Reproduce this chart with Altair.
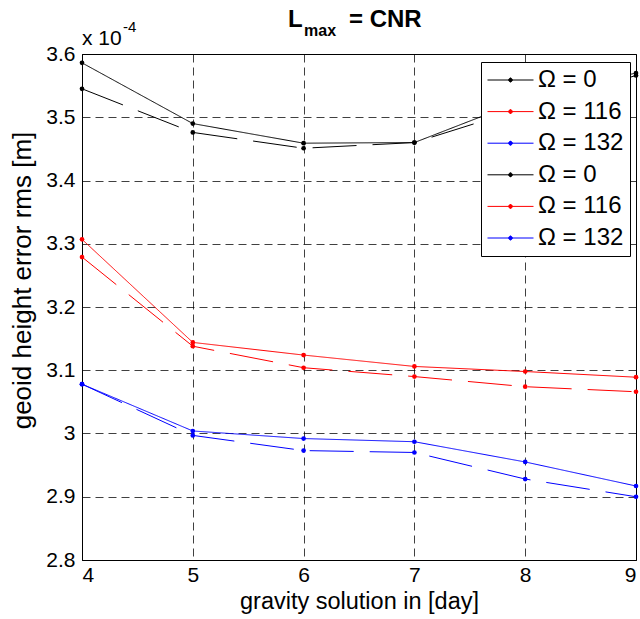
import altair as alt
import pandas as pd

# ---- data (values in units of 1e-4 m) ----
days = [4, 5, 6, 7, 8, 9]
series_keys = ["Ω = 0|a", "Ω = 116|a", "Ω = 132|a", "Ω = 0|b", "Ω = 116|b", "Ω = 132|b"]
series_colors = ["#000000", "#ff0000", "#0000ff", "#000000", "#ff0000", "#0000ff"]
series_styles = ["solid", "solid", "solid", "dashed", "dashed", "dashed"]

solid_0 = [3.586, 3.490, 3.459, 3.460, 3.528, 3.570]
solid_116 = [3.307, 3.144, 3.124, 3.106, 3.098, 3.089]
solid_132 = [3.078, 3.004, 2.992, 2.987, 2.955, 2.917]
dash_0 = [3.545, 3.476, 3.451, 3.460, 3.515, 3.566]
dash_116 = [3.279, 3.138, 3.104, 3.090, 3.074, 3.066]
dash_132 = [3.078, 2.997, 2.973, 2.970, 2.928, 2.900]

x_ticks = [4, 5, 6, 7, 8, 9]
y_ticks = [2.8, 2.9, 3.0, 3.1, 3.2, 3.3, 3.4, 3.5, 3.6]

series_values = [solid_0, solid_116, solid_132, dash_0, dash_116, dash_132]
rows = []
for key, style, vals in zip(series_keys, series_styles, series_values):
    for d, v in zip(days, vals):
        rows.append({"day": d, "rms": v, "series": key, "style": style})
df = pd.DataFrame(rows)

FONT = "Liberation Sans"

legend = alt.Legend(
    orient="none", legendX=399, legendY=8, title=None,
    symbolType="M-1,0H1M-0.08,0A0.08,0.08,0,1,1,0.08,0A0.08,0.08,0,1,1,-0.08,0"
               "M-0.04,0A0.04,0.04,0,1,1,0.04,0A0.04,0.04,0,1,1,-0.04,0M0,-0.1V0.1",
    symbolSize=2116, symbolStrokeWidth=1, symbolOpacity=1,
    labelFont=FONT, labelFontSize=24, labelColor="black",
    labelExpr="split(datum.value, '|')[0]",
    labelOffset=4, strokeColor="black", fillColor="white",
    clipHeight=24, padding=6, rowPadding=7.6, cornerRadius=0,
)

x_enc = alt.X("day:Q", scale=alt.Scale(domain=[4, 9], nice=False, zero=False),
              axis=alt.Axis(values=x_ticks, format="d", title="gravity solution in [day]",
                            labelFontSize=21, labelPadding=4, titleFontSize=23.5, titlePadding=4))
y_enc = alt.Y("rms:Q", scale=alt.Scale(domain=[2.8, 3.6], nice=False, zero=False),
              axis=alt.Axis(values=y_ticks, format=".1~f", title="geoid height error rms [m]",
                            labelFontSize=21, labelPadding=7, titleFontSize=26,
                            titleX=-60, titleY=226, titleBaseline="middle", titleAngle=270))
color_enc = alt.Color("series:N", scale=alt.Scale(domain=series_keys, range=series_colors), legend=legend)
dash_enc = alt.StrokeDash("style:N", scale=alt.Scale(domain=["solid", "dashed"], range=[[1, 0], [44, 16]]),
                          legend=None)

base = alt.Chart(df)
lines = base.mark_line(strokeWidth=1).encode(x=x_enc, y=y_enc, color=color_enc, strokeDash=dash_enc)
points = base.mark_point(filled=True, size=22, opacity=1).encode(x=x_enc, y=y_enc, color=color_enc)

one = pd.DataFrame({"k": [0]})
t_L = alt.Chart(one).mark_text(text="L", font=FONT, fontSize=24, fontWeight="bold", align="left",
                               baseline="alphabetic", color="black").encode(x=alt.value(206), y=alt.value(-27))
t_max = alt.Chart(one).mark_text(text="max", font=FONT, fontSize=16, fontWeight="bold", align="left",
                                 baseline="alphabetic", color="black").encode(x=alt.value(222), y=alt.value(-18))
t_cnr = alt.Chart(one).mark_text(text="= CNR", font=FONT, fontSize=24, fontWeight="bold", align="left",
                                 baseline="alphabetic", color="black").encode(x=alt.value(267), y=alt.value(-27))
t_x10 = alt.Chart(one).mark_text(text="x 10", font=FONT, fontSize=21, align="left",
                                 baseline="alphabetic", color="black").encode(x=alt.value(0), y=alt.value(-9))
t_exp = alt.Chart(one).mark_text(text="-4", font=FONT, fontSize=15, align="left",
                                 baseline="alphabetic", color="black").encode(x=alt.value(41), y=alt.value(-22))

chart = alt.layer(lines, points, t_L, t_max, t_cnr, t_x10, t_exp).properties(
    width=554, height=506,
    autosize=alt.AutoSizeParams(type="none"),
    padding={"left": 82, "top": 54, "right": 4, "bottom": 59},
    background="white",
).configure_view(
    stroke="black", strokeWidth=1
).configure_axis(
    grid=True, gridColor="black", gridDash=[8, 5], gridOpacity=0.75, gridWidth=1,
    domainColor="black", domainWidth=1, ticks=False, tickSize=0,
    labelFont=FONT, labelColor="black", titleFont=FONT, titleColor="black",
    titleFontWeight="normal",
)

chart.save("out.html", embed_options={"renderer": "svg", "actions": False})
